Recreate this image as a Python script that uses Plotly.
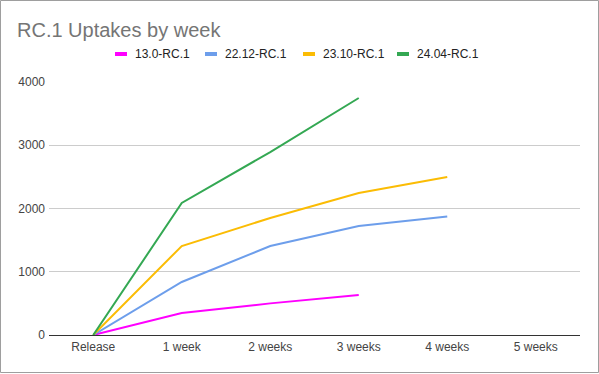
import plotly.graph_objects as go

categories = ["Release", "1 week", "2 weeks", "3 weeks", "4 weeks", "5 weeks"]
s_130 = [0, 348, 500, 632, None, None]
s_2212 = [0, 838, 1407, 1723, 1875, None]
s_2310 = [0, 1407, 1850, 2245, 2498, None]
s_2404 = [0, 2087, 2893, 3747, None, None]
names = ["13.0-RC.1", "22.12-RC.1", "23.10-RC.1", "24.04-RC.1"]
colors = ["#ff00ff", "#6d9eeb", "#fbbc04", "#34a853"]

W, H = 599, 374
L, R, T, B = 49, 19, 82, 39
pw, ph = W - L - R, H - T - B


def px(x):
    return (x - L) / pw


def py(y):
    return (T + ph - y) / ph


fig = go.Figure()
for name, vals, c in zip(names, [s_130, s_2212, s_2310, s_2404], colors):
    fig.add_trace(go.Scatter(x=categories, y=vals, name=name, mode="lines",
                             line=dict(color=c, width=2), connectgaps=False,
                             showlegend=False))

# manual legend (swatch + label)
legend_x = [115, 205, 303, 397]
ly = 54
for name, c, x0 in zip(names, colors, legend_x):
    fig.add_shape(type="rect", xref="paper", yref="paper",
                  x0=px(x0), x1=px(x0 + 12), y0=py(ly + 2), y1=py(ly - 2),
                  line=dict(width=0), fillcolor=c)
    fig.add_annotation(text=name, xref="paper", yref="paper", x=px(x0 + 18), y=py(ly + 0.5),
                       xanchor="left", yanchor="middle", showarrow=False,
                       font=dict(size=12, color="#222222"))

fig.update_layout(
    width=W, height=H,
    margin=dict(l=L, r=R, t=T, b=B),
    paper_bgcolor="white", plot_bgcolor="white",
    font=dict(family="Arial, Liberation Sans, sans-serif", size=12, color="#444444"),
    title=dict(text="RC.1 Uptakes by week", x=17 / W, xanchor="left", y=1 - 30 / H, yanchor="middle",
               font=dict(size=20, color="#757575")),
    showlegend=False,
)
fig.update_xaxes(type="category", categoryorder="array", categoryarray=categories,
                 range=[-0.5, 5.5], showgrid=False, showline=False, ticks="",
                 ticklabelstandoff=3, tickfont=dict(size=12, color="#444444"))
fig.update_yaxes(range=[0, 4000], tickvals=[0, 1000, 2000, 3000, 4000], showgrid=True,
                 gridcolor="#cccccc", zeroline=True, zerolinecolor="#333333", zerolinewidth=1,
                 showline=False, ticks="", ticklabelstandoff=3, tickfont=dict(size=12, color="#444444"))
fig.add_shape(type="rect", xref="paper", yref="paper",
              x0=px(0.5), x1=px(W - 0.5), y0=py(H - 1.5), y1=py(0.5),
              line=dict(color="#9e9e9e", width=1), fillcolor="rgba(0,0,0,0)")

fig.write_html("out.html", config={"displayModeBar": False},
               post_script="document.body.style.margin='0';document.body.style.padding='0';")
